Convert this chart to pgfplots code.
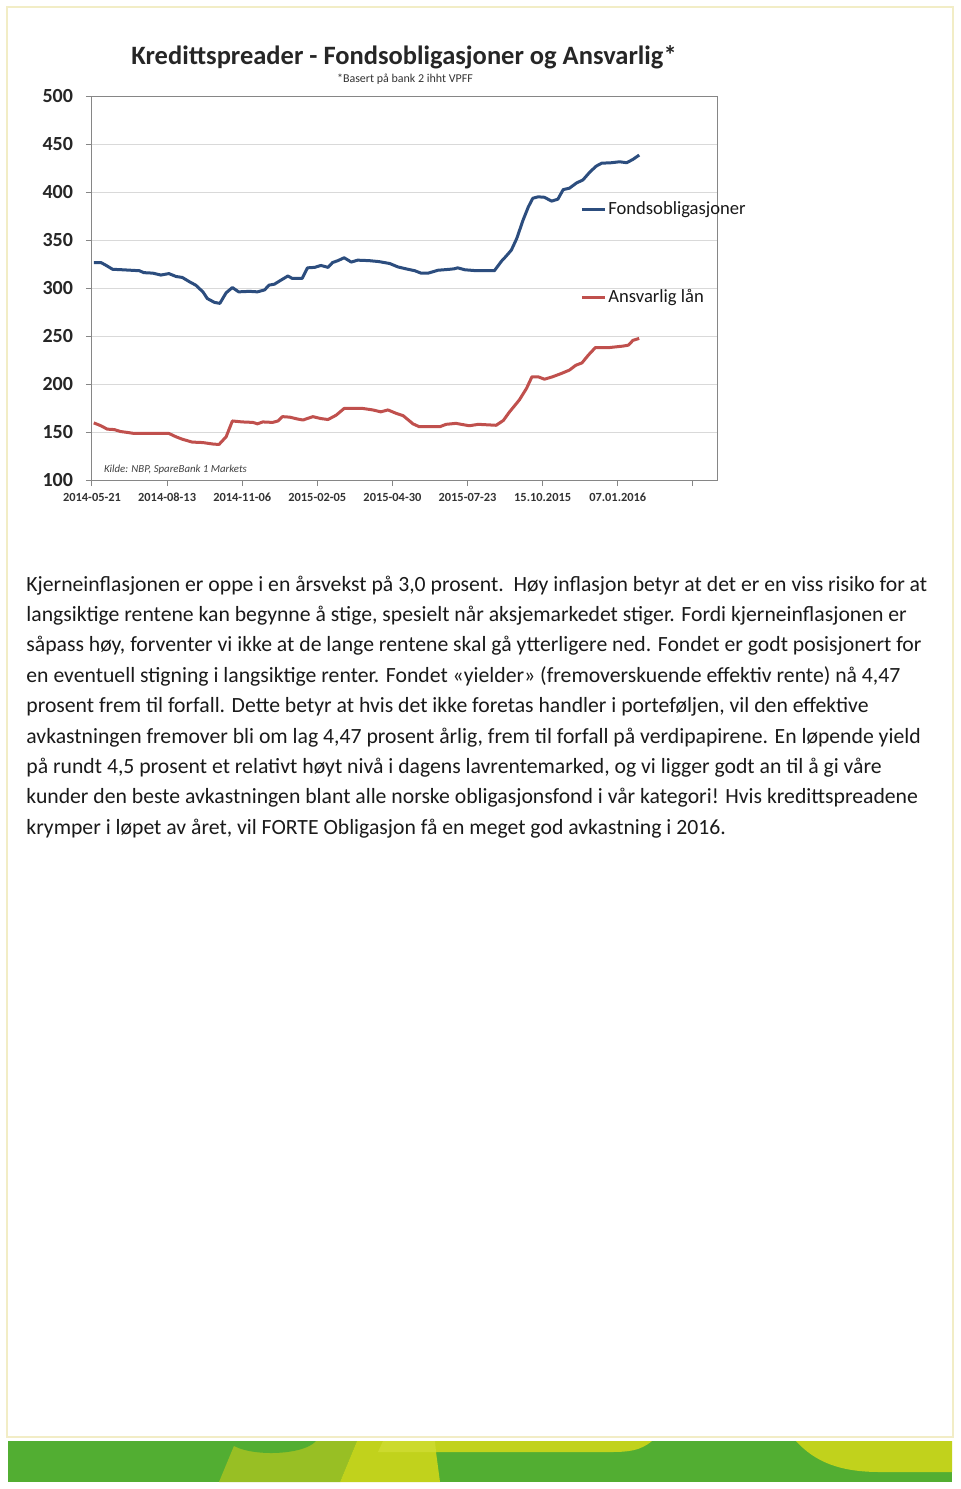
\documentclass[border=0pt]{standalone}
\usepackage{fontspec}
\setmainfont{Carlito}
\usepackage{pgfplots}
\pgfplotsset{compat=1.18}
\definecolor{blueline}{HTML}{2C4D7E}
\definecolor{redline}{HTML}{C0504D}
\definecolor{gridgray}{HTML}{D9D9D9}
\definecolor{axisgray}{HTML}{868686}
\definecolor{framecol}{HTML}{F2EDC6}
\definecolor{bandgreen}{HTML}{52AE32}
\definecolor{bandolive}{HTML}{98BF24}
\definecolor{bandyellow}{HTML}{C1D21C}
\definecolor{bandhl}{HTML}{CCDA2E}
\definecolor{txt}{HTML}{1A1A1A}
\begin{document}
\begin{tikzpicture}
\begin{scope}[x=0.5pt,y=-0.5pt]
\path[use as bounding box] (0,0) rectangle (960,1489);
\fill[white] (0,0) rectangle (960,1489);
\draw[framecol, line width=0.6pt] (7,7) rectangle (953,1437);
% footer band
\fill[bandgreen] (8,1441) rectangle (952,1482);
\fill[bandolive] (236,1441) -- (357,1441) -- (340,1482) -- (219,1482) -- cycle;
\fill[bandgreen] (228,1441) .. controls (240,1457) and (302,1457) .. (316,1441) -- cycle;
\fill[bandyellow] (357,1441) -- (652,1441) .. controls (640,1451) and (628,1452) .. (610,1452) -- (436,1452) -- (440,1482) -- (340,1482) -- cycle;
\fill[bandhl] (383,1441) -- (435,1441) -- (436,1452) -- (378,1452) -- cycle;
\fill[bandyellow] (796,1441) -- (952,1441) -- (952,1472) -- (880,1472) .. controls (840,1472) and (815,1462) .. (796,1441) -- cycle;
% title
\node[anchor=base, font=\fontsize{13.25}{15}\selectfont\bfseries, text=black!85, inner sep=0pt] at (404,64) {Kredittspreader - Fondsobligasjoner og Ansvarlig*};
\node[anchor=base, font=\fontsize{6}{7}\selectfont, text=black!80, inner sep=0pt] at (405,82) {*Basert på bank 2 ihht VPFF};
% body text
\begin{scope}[every node/.style={anchor=base west, inner sep=0pt, font=\fontsize{10.85}{13}\selectfont, text=txt}]
\node at (26,591) {Kjerneinflasjonen er oppe i en årsvekst på 3,0 prosent.\ \ Høy inflasjon betyr at det er en viss risiko for at};
\node at (26,621.4) {langsiktige rentene kan begynne å stige, spesielt når aksjemarkedet stiger. Fordi kjerneinflasjonen er};
\node at (26,651.8) {såpass høy, forventer vi ikke at de lange rentene skal gå ytterligere ned. Fondet er godt posisjonert for};
\node at (26,682.2) {en eventuell stigning i langsiktige renter. Fondet «yielder» (fremoverskuende effektiv rente) nå 4,47};
\node at (26,712.6) {prosent frem til forfall. Dette betyr at hvis det ikke foretas handler i porteføljen, vil den effektive};
\node at (26,743) {avkastningen fremover bli om lag 4,47 prosent årlig, frem til forfall på verdipapirene. En løpende yield};
\node at (26,773.4) {på rundt 4,5 prosent et relativt høyt nivå i dagens lavrentemarked, og vi ligger godt an til å gi våre};
\node at (26,803.8) {kunder den beste avkastningen blant alle norske obligasjonsfond i vår kategori! Hvis kredittspreadene};
\node at (26,834.2) {krymper i løpet av året, vil FORTE Obligasjon få en meget god avkastning i 2016.};
\end{scope}
\end{scope}
\begin{axis}[
  at={(46pt,-240pt)}, anchor=south west,
  width=312.5pt, height=192pt, scale only axis,
  xmin=0, xmax=699, ymin=100, ymax=500,
  xtick={0,84,...,672},
  xticklabels={2014-05-21,2014-08-13,2014-11-06,2015-02-05,2015-04-30,2015-07-23,15.10.2015,07.01.2016,{}},
  ytick={100,150,...,500},
  xtick pos=bottom, ytick pos=left,
  tick align=outside, major tick length=3pt,
  tick style={draw=axisgray, line width=0.5pt},
  axis line style={draw=axisgray, line width=0.5pt},
  ymajorgrids, grid style={draw=gridgray, line width=0.5pt},
  /pgf/number format/assume math mode=true,
  yticklabel style={font=\fontsize{10}{12}\selectfont\bfseries, text=black!85, xshift=-3pt},
  xticklabel style={font=\fontsize{6.2}{7}\selectfont\bfseries, text=black!80, yshift=0pt},
  legend style={at={(axis cs:539,395)}, anchor=north west, draw=none, fill=none,
    font=\fontsize{9.3}{10}\selectfont, text=black!90, row sep=36pt, column sep=1pt,
    nodes={inner sep=0pt}, cells={anchor=west}},
  legend image code/.code={\draw[#1] (0pt,0pt) -- (11.5pt,0pt);},
  every axis plot/.append style={line width=1.5pt, line join=round},
]
\addplot[blueline] coordinates {(2,326.5)(10,326.5)(15,324)(23,319.5)(34,319)(53,318)(58,316)(68,315.5)(77,313.5)(86,315)(94,312)(101,311)(109,306.5)(116,303)(124,296)(129,289)(137,285)(143,284)(150,295)(157,300.5)(164,296)(176,296.5)(185,296)(193,298)(198,303)(204,304)(211,308)(219,312.5)(224,310)(235,310)(241,321)(249,321.5)(256,323.5)(264,321.5)(269,326.5)(275,328.5)(282,331.5)(290,327)(297,329)(310,328.5)(321,327.5)(333,325.5)(342,322)(351,320)(361,318)(368,315.5)(376,315.5)(387,318.5)(400,319.5)(405,320)(409,321)(417,319)(430,318)(450,318)(458,328)(463,333)(469,339.5)(475,351.5)(482,370.5)(488,384.5)(493,393.5)(499,395)(506,394.5)(514,390.5)(521,392.5)(527,402.5)(534,404)(542,409.5)(549,412.5)(557,421)(564,427)(570,430)(581,430.5)(590,431.5)(598,430.5)(605,434)(612,438.5)};
\addlegendentry{Fondsobligasjoner}
\addplot[redline] coordinates {(2,159.5)(10,156.5)(17,153)(25,152.5)(32,150.5)(40,149.5)(47,148.5)(86,148.5)(94,145)(101,142.5)(112,139.5)(124,139)(135,137.5)(142,137)(150,145)(157,161.5)(168,160.5)(180,160)(185,158.5)(191,160.5)(202,160)(208,161.5)(213,166)(221,165.5)(230,163.5)(236,162.5)(247,166)(256,164)(264,163)(273,167.5)(282,174.5)(303,174.5)(314,173)(323,171)(331,173)(340,169.5)(348,167)(359,158.5)(366,155.5)(389,155.5)(396,158)(407,159)(422,156.5)(432,158)(452,157)(460,162)(467,171)(471,175.5)(478,183.5)(486,195.5)(492,207.5)(499,207.5)(506,205)(515,207.5)(525,211)(534,214.5)(541,219.5)(548,222)(555,230)(563,238)(579,238)(594,239.5)(600,240.5)(605,245.5)(612,247.5)};
\addlegendentry{Ansvarlig lån}
\node[anchor=base west, inner sep=0pt, font=\fontsize{5.4}{6}\selectfont\itshape, text=black!75] at (axis cs:13,108.3) {Kilde: NBP, SpareBank 1 Markets};
\end{axis}
\end{tikzpicture}
\end{document}
